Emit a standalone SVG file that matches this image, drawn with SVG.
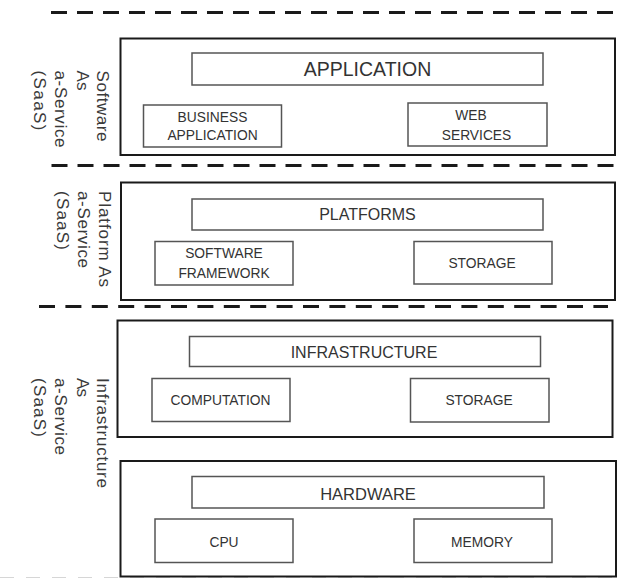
<svg xmlns="http://www.w3.org/2000/svg" width="619" height="578" viewBox="0 0 619 578">
  <style>
    .layer { fill: #ffffff; stroke: #1a1a1a; stroke-width: 2; }
    .item { fill: #ffffff; stroke: #555555; stroke-width: 1.5; }
    .sep { fill: none; stroke: #1a1a1a; stroke-width: 3; stroke-dasharray: 16 10; }
    text { font-family: "Liberation Sans", Arial, sans-serif; fill: #333333; }
    .title { text-anchor: middle; }
    .t16 { font-size: 16px; }
    .t14 { font-size: 13.8px; }
    .side { font-size: 17px; fill: #3a3a3a; }
  </style>
  <rect x="0" y="0" width="619" height="578" fill="#ffffff"/>

  <!-- layer separators -->
  <g id="separators">
    <line class="sep" x1="51" y1="12.5" x2="619" y2="12.5"/>
    <line class="sep" x1="51.5" y1="165.5" x2="619" y2="165.5"/>
    <line class="sep" x1="39" y1="306.5" x2="608" y2="306.5" style="stroke-dasharray:16 10.4"/>
    <line x1="0" y1="577.5" x2="619" y2="577.5" stroke="#d6d6d6" stroke-width="1" stroke-dasharray="14 12"/>
  </g>

  <!-- side labels -->
  <g id="label-saas" transform="translate(97,70.5) rotate(90)">
    <text class="side" x="0" y="0" textLength="71" lengthAdjust="spacing">Software</text>
    <text class="side" x="0" y="20.5" textLength="20" lengthAdjust="spacing">As</text>
    <text class="side" x="0" y="42" textLength="77" lengthAdjust="spacing">a-Service</text>
    <text class="side" x="0" y="63.5" textLength="60" lengthAdjust="spacing">(SaaS)</text>
  </g>
  <g id="label-paas" transform="translate(99,191) rotate(90)">
    <text class="side" x="0" y="0" textLength="96" lengthAdjust="spacing">Platform As</text>
    <text class="side" x="0" y="21" textLength="77" lengthAdjust="spacing">a-Service</text>
    <text class="side" x="0" y="42" textLength="59" lengthAdjust="spacing">(SaaS)</text>
  </g>
  <g id="label-iaas" transform="translate(97,378) rotate(90)">
    <text class="side" x="0" y="0" textLength="110" lengthAdjust="spacing">Infrastructure</text>
    <text class="side" x="0" y="20.5" textLength="19" lengthAdjust="spacing">As</text>
    <text class="side" x="0" y="42" textLength="77" lengthAdjust="spacing">a-Service</text>
    <text class="side" x="0" y="63" textLength="59" lengthAdjust="spacing">(SaaS)</text>
  </g>

  <!-- software layer -->
  <g id="layer-application">
    <rect class="layer" x="120.5" y="38.5" width="494.5" height="116.5"/>
    <g id="application">
      <rect class="item" x="192" y="53" width="351" height="32"/>
      <text class="title" x="367.5" y="76" style="font-size:19.5px">APPLICATION</text>
    </g>
    <g id="business-application">
      <rect class="item" x="143.5" y="105" width="138" height="42"/>
      <text class="title t14" x="212.5" y="121.5">BUSINESS</text>
      <text class="title t14" x="212.5" y="140">APPLICATION</text>
    </g>
    <g id="web-services">
      <rect class="item" x="408" y="103" width="139" height="43"/>
      <text class="title t14" x="471" y="120">WEB</text>
      <text class="title t14" x="476.5" y="139.5">SERVICES</text>
    </g>
  </g>

  <!-- platform layer -->
  <g id="layer-platforms">
    <rect class="layer" x="121" y="182.5" width="494" height="117.5"/>
    <g id="platforms">
      <rect class="item" x="192" y="199" width="351" height="31"/>
      <text class="title t16" x="367.5" y="220">PLATFORMS</text>
    </g>
    <g id="software-framework">
      <rect class="item" x="155" y="241.5" width="138" height="43.5"/>
      <text class="title t14" x="224" y="258">SOFTWARE</text>
      <text class="title t14" x="224" y="277.5">FRAMEWORK</text>
    </g>
    <g id="platform-storage">
      <rect class="item" x="414" y="241.5" width="138" height="42.5"/>
      <text class="title t14" x="482" y="268.3">STORAGE</text>
    </g>
  </g>

  <!-- infrastructure layer -->
  <g id="layer-infrastructure">
    <rect class="layer" x="117.5" y="320.5" width="495" height="116.5"/>
    <g id="infrastructure">
      <rect class="item" x="189.5" y="336.5" width="351" height="30"/>
      <text class="title t16" x="364" y="358.3">INFRASTRUCTURE</text>
    </g>
    <g id="computation">
      <rect class="item" x="152" y="378.5" width="138" height="43"/>
      <text class="title t14" x="220.5" y="405">COMPUTATION</text>
    </g>
    <g id="infrastructure-storage">
      <rect class="item" x="410.5" y="378.5" width="138.5" height="43.5"/>
      <text class="title t14" x="479" y="405">STORAGE</text>
    </g>
  </g>

  <!-- hardware layer -->
  <g id="layer-hardware">
    <rect class="layer" x="120.5" y="461" width="495.5" height="115.5"/>
    <g id="hardware">
      <rect class="item" x="192" y="476.5" width="352" height="31.5"/>
      <text class="title" x="368" y="500" style="font-size:16.5px">HARDWARE</text>
    </g>
    <g id="cpu">
      <rect class="item" x="155" y="519" width="138" height="43.5"/>
      <text class="title t14" x="224" y="546.7">CPU</text>
    </g>
    <g id="memory">
      <rect class="item" x="414" y="519" width="138" height="43.5"/>
      <text class="title t14" x="482" y="546.7">MEMORY</text>
    </g>
  </g>
</svg>
